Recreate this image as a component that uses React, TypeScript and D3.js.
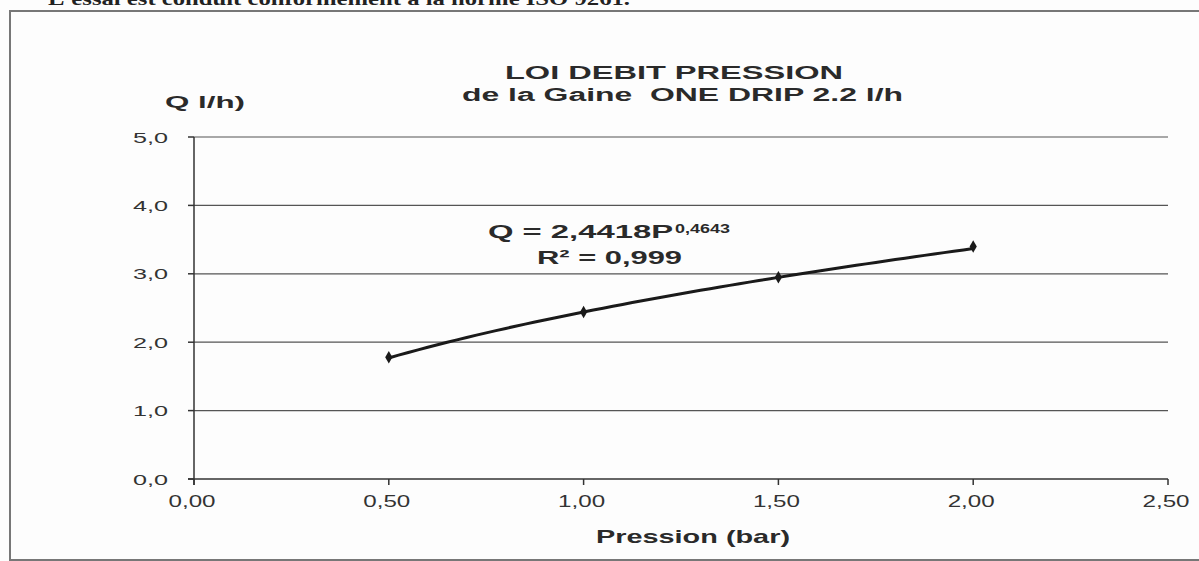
import React from "react";
import * as d3 from "d3";

const pressions = [0.5, 1.0, 1.5, 2.0];
const debits = [1.78, 2.44, 2.95, 3.40];
const xTicks = [0, 0.5, 1.0, 1.5, 2.0, 2.5];
const yTicks = [0, 1, 2, 3, 4, 5];
const fitCoef = 2.4418;
const fitExp = 0.4643;
const rSquared = "0,999";
const titleLines = ["LOI DEBIT PRESSION", "de la Gaine\u00a0\u00a0ONE DRIP 2.2 l/h"];

const W = 1199;
const H = 561;
const FONT = "'Liberation Sans', Arial, Helvetica, sans-serif";
const INK = "#2a2a2a";

type TProps = {
  x: number;
  y: number;
  len: number;
  size: number;
  bold?: boolean;
  anchor?: "start" | "middle" | "end";
  fill?: string;
  family?: string;
  children: React.ReactNode;
};

function T({ x, y, len, size, bold, anchor = "start", fill = INK, family = FONT, children }: TProps) {
  return (
    <text
      x={x}
      y={y}
      textAnchor={anchor}
      fontFamily={family}
      fontWeight={bold ? "bold" : "normal"}
      fontSize={size}
      fill={fill}
      textLength={len}
      lengthAdjust="spacingAndGlyphs"
    >
      {children}
    </text>
  );
}

export default function App() {
  const x = d3.scaleLinear().domain([0, 2.5]).range([194, 1168]);
  const y = d3.scaleLinear().domain([0, 5]).range([479, 137]);
  const fmtX = (v: number) => v.toFixed(2).replace(".", ",");
  const fmtY = (v: number) => v.toFixed(1).replace(".", ",");

  const p0 = pressions[0];
  const p1 = pressions[pressions.length - 1];
  const curvePts: [number, number][] = d3
    .range(0, 61)
    .map((i) => p0 + (i / 60) * (p1 - p0))
    .map((p) => [x(p), y(fitCoef * Math.pow(p, fitExp))]);
  const line = d3.line().curve(d3.curveLinear)(curvePts) || "";
  const diamond = d3.symbol().type(d3.symbolDiamond).size(45)() || "";

  return (
    <svg
      width={W}
      height={H}
      style={{ position: "absolute", left: 0, top: 0, background: "#fff" }}
    >
      <rect x={0} y={0} width={W} height={H} fill="#fdfdfd" />
      {/* document text above the chart, cropped by the scan */}
      <T
        x={48}
        y={5}
        len={582}
        size={19}
        bold
        fill="#222"
        family="'Liberation Serif', 'Times New Roman', serif"
      >
        L'essai est conduit conformément à la norme ISO 9261.
      </T>
      {/* chart frame */}
      <rect x={10} y={11} width={W + 20} height={549} fill="none" stroke="#777" strokeWidth={2} />

      {/* title */}
      <T x={505} y={79} len={338} size={18} bold>
        {titleLines[0]}
      </T>
      <T x={462} y={101} len={441} size={18} bold>
        {titleLines[1]}
      </T>

      {/* y axis label */}
      <T x={165} y={108} len={80} size={17} bold>
        Q l/h)
      </T>

      {/* gridlines */}
      {yTicks
        .filter((v) => v > 0)
        .map((v) => (
          <line key={"g" + v} x1={x(0)} x2={x(2.5)} y1={y(v)} y2={y(v)} stroke="#555" strokeWidth={1.2} />
        ))}

      {/* y axis */}
      <line x1={x(0)} x2={x(0)} y1={y(5)} y2={y(0) + 6} stroke="#333" strokeWidth={1.5} />
      {yTicks.map((v) => (
        <g key={"y" + v}>
          <line x1={x(0) - 6} x2={x(0)} y1={y(v)} y2={y(v)} stroke="#333" strokeWidth={1.5} />
          <T x={168} y={y(v) + 5.5} len={35} size={15.5} anchor="end" fill="#333">
            {fmtY(v)}
          </T>
        </g>
      ))}

      {/* x axis */}
      <line x1={x(0) - 6} x2={x(2.5)} y1={y(0)} y2={y(0)} stroke="#333" strokeWidth={1.5} />
      {xTicks.map((v) => (
        <g key={"x" + v}>
          <line x1={x(v)} x2={x(v)} y1={y(0)} y2={y(0) + 6} stroke="#333" strokeWidth={1.5} />
          <T x={x(v) - 2} y={507} len={47} size={16} anchor="middle" fill="#333">
            {fmtX(v)}
          </T>
        </g>
      ))}
      <T x={596} y={543} len={194} size={19} bold>
        Pression (bar)
      </T>

      {/* trend curve */}
      <path d={line} fill="none" stroke="#1a1a1a" strokeWidth={3} />
      {pressions.map((p, i) => (
        <path
          key={"m" + i}
          d={diamond}
          transform={`translate(${x(p)},${y(debits[i])})`}
          fill="#1a1a1a"
        />
      ))}

      {/* equation */}
      <T x={488} y={238} len={185} size={19} bold>
        {`Q = ${fitCoef.toString().replace(".", ",")}P`}
      </T>
      <T x={675} y={233} len={55} size={12.5} bold>
        {fitExp.toString().replace(".", ",")}
      </T>
      <T x={537} y={264} len={145} size={19} bold>
        {`R² = ${rSquared}`}
      </T>
    </svg>
  );
}
